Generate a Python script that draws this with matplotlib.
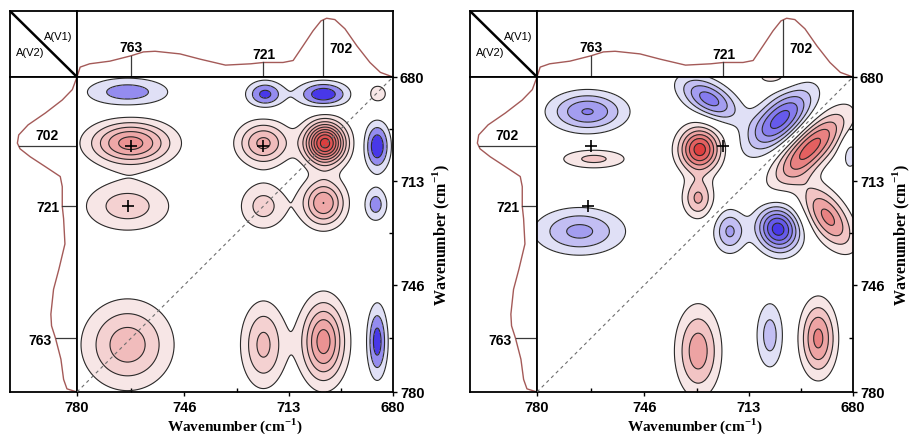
import matplotlib.pyplot as plt
import numpy as np

plt.rcParams["font.family"] = ["Liberation Sans", "DejaVu Sans"]
plt.rcParams["mathtext.fontset"] = "custom"
plt.rcParams["mathtext.rm"] = "Liberation Serif:bold"
plt.rcParams["mathtext.bf"] = "Liberation Serif:bold"

# 1D reference spectrum (wavenumber, normalised absorbance)
SPEC_WN = [780, 779, 776, 769.6, 763, 759, 755.3, 747.4, 741, 733, 725, 721,
           714.8, 711.6, 708.5, 705.3, 702.8, 701, 698.4, 695.2, 691.4, 687.3,
           684, 680]
SPEC_ABS = [0.0, 0.15, 0.2, 0.24, 0.32, 0.38, 0.39, 0.35, 0.27, 0.18, 0.2, 0.22,
            0.22, 0.25, 0.47, 0.70, 0.85, 0.89, 0.87, 0.73, 0.47, 0.22, 0.07, 0.0]
PEAK_WN = [763, 721, 702]

WN_TICKS = [780, 746, 713, 680]
WN_MINOR = [763, 729.5, 696.5]
CROSS_X = [763, 721, 764]
CROSS_Y = [702, 702, 721]

# synchronous map: cross peaks (x, y, amplitude in contour steps, widths, tilt)
SYNC_X = [764, 720.5, 702, 685, 763, 721, 701.5, 685, 764, 721, 702, 685.5, 764, 721, 702, 685]
SYNC_Y = [684.8, 685.5, 685.5, 685.5, 701, 701, 701, 702, 721, 721, 720, 720.5, 765, 765, 764, 764]
SYNC_AMP = [-2.6, -3.3, -3.8, 1.3, 5.5, 4.3, 9.5, -3.8, 2.6, 2.45, 5.0, -2.5, 3.6, 3.3, 5.5, -3.5]
SYNC_SA = [9.2, 4.0, 5.5, 3.7, 8.7, 5.5, 4.4, 2.75, 9.4, 5.2, 4.6, 2.6, 9.2, 4.7, 4.7, 2.2]
SYNC_SB = [3.2, 2.9, 2.75, 3.7, 4.6, 4.6, 4.5, 5.3, 5.5, 5.2, 5.0, 3.7, 9.1, 9.0, 8.7, 7.8]
SYNC_TILT = [0] * 16

# asynchronous map
ASYN_X = [764, 762, 725.5, 703, 728.5, 693.5, 688, 681, 729, 719, 703.7, 705, 766.5, 729, 706.3, 691]
ASYN_Y = [691, 706, 687, 693.5, 703, 702.5, 724.5, 704.5, 718.5, 729, 728.3, 680, 729, 767, 762, 763]
ASYN_AMP = [-4.1, 2.3, -4.5, -5.5, 6.5, 5.5, 4.3, -1.5, 3.2, -3.2, -6.5, 1.4, -3.3, 3.6, -2.5, 4.3]
ASYN_SA = [8.0, 7.4, 7.0, 8.6, 4.5, 10.0, 8.0, 2.2, 3.3, 3.4, 5.0, 4.9, 9.4, 4.7, 3.0, 3.8]
ASYN_SB = [4.2, 2.2, 3.6, 4.3, 4.8, 4.0, 4.0, 4.4, 4.3, 4.6, 4.5, 2.4, 4.9, 9.4, 7.4, 7.9]
ASYN_TILT = [0, 0, 30, -43, 0, -45, 55, 0, 0, 0, 60, 0, 0, 0, 0, 0]

W, H = 912, 435
RED_LO, RED_HI = np.array([247, 230, 230]), np.array([222, 62, 62])
BLUE_LO, BLUE_HI = np.array([224, 224, 246]), np.array([72, 56, 232])
SERIF = "Liberation Serif"


def px_axes(fig, left, top, width, height):
    return fig.add_axes([left / W, 1 - (top + height) / H, width / W, height / H])


def build_map(gx, gy, xs, ys, amps, sa, sb, tilts):
    z = np.zeros_like(gx)
    for x0, y0, a, s1, s2, t in zip(xs, ys, amps, sa, sb, tilts):
        u = x0 - gx
        v = gy - y0
        t = np.radians(t)
        p = u * np.cos(t) + v * np.sin(t)
        q = -u * np.sin(t) + v * np.cos(t)
        z += a * np.exp(-0.5 * ((p / s1) ** 2 + (q / s2) ** 2))
    return z


def ramp(lo, hi, n):
    if n == 1:
        return [tuple(hi / 255)]
    return [tuple((lo + (hi - lo) * k / (n - 1)) / 255) for k in range(n)]


def draw_contours(ax, gx, gy, z):
    n_pos = int(np.floor(z.max()))
    n_neg = int(np.floor(-z.min()))
    neg = list(-np.arange(n_neg, 0, -1.0))
    pos = list(np.arange(1, n_pos + 1, 1.0))
    levels = [z.min() - 1] + neg + pos + [z.max() + 1]
    colors = ramp(BLUE_LO, BLUE_HI, n_neg)[::-1] + ["white"] + ramp(RED_LO, RED_HI, n_pos)
    ax.contourf(gx, gy, z, levels=levels, colors=colors)
    ax.contour(gx, gy, z, levels=neg + pos, colors="#2a2a2a", linewidths=0.8,
               linestyles="solid")


def draw_panel(fig, x0, z, gx, gy):
    # corner box
    corner = px_axes(fig, x0 + 10, 12, 67, 66)
    corner.plot([0, 1], [1, 0], color="black", lw=1.8, transform=corner.transAxes)
    corner.text(0.72, 0.62, "A(V1)", fontsize=8, ha="center", va="center",
                transform=corner.transAxes)
    corner.text(0.3, 0.38, "A(V2)", fontsize=8, ha="center", va="center",
                transform=corner.transAxes)
    corner.set_xticks([])
    corner.set_yticks([])

    # top spectrum
    top = px_axes(fig, x0 + 77, 12, 316, 66)
    top.plot(SPEC_WN, SPEC_ABS, color="#a45a58", lw=1.0)
    top.set_xlim(780, 680)
    top.set_ylim(0, 1)
    top.set_xticks([])
    top.set_yticks([])
    for wn in PEAK_WN:
        h = np.interp(wn, SPEC_WN[::-1], SPEC_ABS[::-1])
        top.plot([wn, wn], [0, h], color="#3a3a3a", lw=0.9)
    top.text(763, 0.45, "763", fontsize=10, fontweight="bold", ha="center", va="center")
    top.text(721, 0.35, "721", fontsize=10, fontweight="bold", ha="center", va="center")
    top.text(696.5, 0.44, "702", fontsize=10, fontweight="bold", ha="center", va="center")

    # left spectrum
    side = px_axes(fig, x0 + 10, 78, 67, 315)
    side.plot(SPEC_ABS, SPEC_WN, color="#a45a58", lw=1.0)
    side.set_xlim(1, 0)
    side.set_ylim(780, 680)
    side.set_xticks([])
    side.set_yticks([])
    for wn in PEAK_WN:
        h = np.interp(wn, SPEC_WN[::-1], SPEC_ABS[::-1])
        side.plot([0, h], [wn, wn], color="#3a3a3a", lw=0.9)
    side.text(0.45, 698.4, "702", fontsize=10, fontweight="bold", ha="center", va="center")
    side.text(0.43, 721.3, "721", fontsize=10, fontweight="bold", ha="center", va="center")
    side.text(0.55, 763.5, "763", fontsize=10, fontweight="bold", ha="center", va="center")

    # 2D correlation map
    ax = px_axes(fig, x0 + 77, 78, 316, 315)
    draw_contours(ax, gx, gy, z)
    ax.plot([780, 680], [780, 680], color="#6e6e6e", lw=0.8, ls=(0, (3, 3)), zorder=5)
    ax.plot(CROSS_X, CROSS_Y, "+", color="black", ms=8, mew=1.2, zorder=6)
    ax.set_xlim(780, 680)
    ax.set_ylim(780, 680)
    ax.yaxis.tick_right()
    ax.set_xticks(WN_TICKS)
    ax.set_yticks(WN_TICKS)
    ax.set_xticks(WN_MINOR, minor=True)
    ax.set_yticks(WN_MINOR, minor=True)
    ax.tick_params(which="major", direction="out", length=3, width=1,
                   labelsize=10.5, pad=2)
    ax.tick_params(axis="x", which="major", pad=3)
    ax.tick_params(which="minor", direction="in", length=3, width=1)
    for lab in ax.get_xticklabels() + ax.get_yticklabels():
        lab.set_fontweight("bold")

    label = "Wavenumber (cm$^{-1}$)"
    fig.text((x0 + 235) / W, 1 - 426 / H, label, fontsize=11, family=SERIF,
             fontweight="bold", ha="center", va="center")
    fig.text((x0 + 441) / W, 1 - 235 / H, label, fontsize=11.5, family=SERIF,
             fontweight="bold", ha="center", va="center", rotation=90)

    for a in (corner, top, side, ax):
        for sp in a.spines.values():
            sp.set_linewidth(1.3)


grid = np.linspace(680, 780, 401)
GX, GY = np.meshgrid(grid, grid)
z_sync = build_map(GX, GY, SYNC_X, SYNC_Y, SYNC_AMP, SYNC_SA, SYNC_SB, SYNC_TILT)
z_asyn = build_map(GX, GY, ASYN_X, ASYN_Y, ASYN_AMP, ASYN_SA, ASYN_SB, ASYN_TILT)

fig = plt.figure(figsize=(W / 100, H / 100), dpi=100)
draw_panel(fig, 0, z_sync, GX, GY)
draw_panel(fig, 460, z_asyn, GX, GY)
fig.savefig("out.png", dpi=100)
